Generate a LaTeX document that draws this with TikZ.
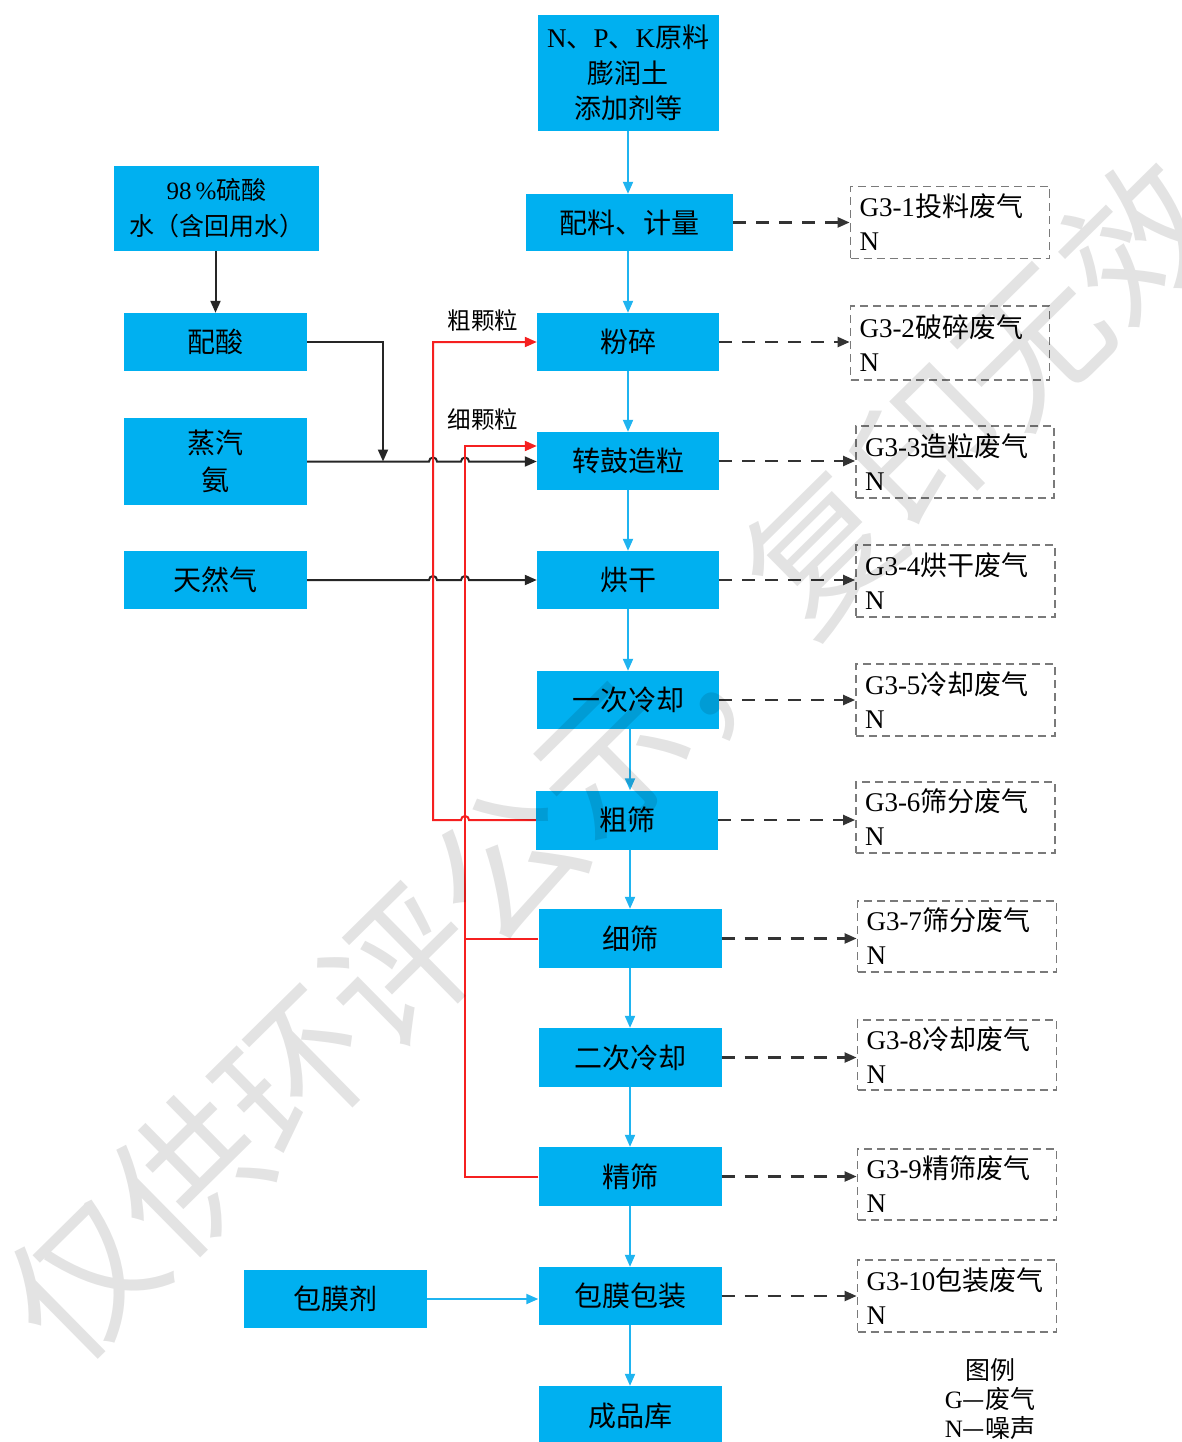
\documentclass[tikz,border=0pt]{standalone}
\usepackage{fontspec}
\setmainfont{Liberation Serif}
\newfontfamily\zhf{Noto Sans CJK SC}
\usetikzlibrary{arrows.meta,calc}
\definecolor{boxblue}{HTML}{00B0F0}
\definecolor{lineblue}{HTML}{1FB4F0}
\definecolor{redline}{HTML}{F52020}
\definecolor{dashgray}{HTML}{7A7A7A}
\begin{document}
\begin{tikzpicture}[x=1pt,y=-1pt,
  pbox/.style={fill=boxblue, inner sep=0pt, align=center, minimum width=182pt, minimum height=58pt,
    font=\fontsize{28}{33}\selectfont\zhf},
  gbox/.style={draw=dashgray, dash pattern=on 8pt off 5pt, line width=1.8pt, inner xsep=9pt, inner ysep=0pt,
    text width=181pt, align=left, minimum height=72pt, font=\fontsize{27}{34}\selectfont},
  tip/.style={-{Triangle[length=12pt,width=10pt]}},
  barrow/.style={draw=lineblue, line width=2pt, tip},
  karrow/.style={draw=black!85, line width=2pt, tip},
  rarrow/.style={draw=redline, line width=2pt, -{Triangle[length=12pt,width=10pt]}},
  rline/.style={draw=redline, line width=2pt},
  darrow/.style={draw=black!80, line width=2.2pt, dash pattern=on 13pt off 10pt, tip},
  lbl/.style={font=\fontsize{23.5}{28}\selectfont\zhf, inner sep=0pt},
]
\useasboundingbox (0,0) rectangle (1182,1442);
\fill[white] (0,0) rectangle (1182,1442);

% main column
\node[pbox, minimum width=181pt, minimum height=116pt, font=\fontsize{27}{35.5}\selectfont\zhf] (raw) at (628,73)
  {{\rmfamily N}、{\rmfamily P}、{\rmfamily K}原料\\膨润土\\添加剂等};
\node[pbox, minimum width=207pt, minimum height=57pt] (pl) at (629.5,222.5) {配料、计量};
\node[pbox] (fs) at (628,342) {粉碎};
\node[pbox] (zl) at (628,461) {转鼓造粒};
\node[pbox] (hg) at (628,580) {烘干};
\node[pbox] (lq1) at (628,700) {一次冷却};
\node[pbox, minimum height=59pt] (cs) at (627,820) {粗筛};
\node[pbox, minimum width=183pt, minimum height=59pt] (xs) at (630,938.5) {细筛};
\node[pbox, minimum width=183pt, minimum height=59pt] (lq2) at (630,1057.5) {二次冷却};
\node[pbox, minimum width=183pt, minimum height=59pt] (js) at (630,1176.5) {精筛};
\node[pbox, minimum width=183pt] (bz) at (630,1296) {包膜包装};
\node[pbox, minimum width=183pt, minimum height=60pt] (cp) at (630,1416) {成品库};

% left column
\node[pbox, minimum width=205pt, minimum height=85pt, font=\fontsize{25}{36}\selectfont\zhf] (ls) at (216.5,208.5)
  {{\rmfamily 98\,\%}硫酸\\水（含回用水）};
\node[pbox, minimum width=183pt] (pa) at (215.5,342) {配酸};
\node[pbox, minimum width=183pt, minimum height=87pt, font=\fontsize{28}{37}\selectfont\zhf] (zq) at (215.5,461.5) {蒸汽\\氨};
\node[pbox, minimum width=183pt] (trq) at (215.5,580) {天然气};
\node[pbox, minimum width=183pt] (bmj) at (335.5,1299) {包膜剂};

% right dashed boxes
\node[gbox] (g1) at (950,222.5) {G3-1{\zhf 投料废气}\\N};
\node[gbox, minimum height=74pt] (g2) at (950,343) {G3-2{\zhf 破碎废气}\\N};
\node[gbox, text width=180pt] (g3) at (955,462) {G3-3{\zhf 造粒废气}\\N};
\node[gbox] (g4) at (955.5,581) {G3-4{\zhf 烘干废气}\\N};
\node[gbox] (g5) at (955.5,700) {G3-5{\zhf 冷却废气}\\N};
\node[gbox, minimum height=71pt] (g6) at (955.5,817.5) {G3-6{\zhf 筛分废气}\\N};
\node[gbox, minimum height=71pt] (g7) at (957,936.5) {G3-7{\zhf 筛分废气}\\N};
\node[gbox, minimum height=70pt] (g8) at (957,1055) {G3-8{\zhf 冷却废气}\\N};
\node[gbox, minimum height=71pt] (g9) at (957,1184.5) {G3-9{\zhf 精筛废气}\\N};
\node[gbox] (g10) at (957,1296) {G3-10{\zhf 包装废气}\\N};

% legend and labels
\node[align=center, font=\fontsize{25}{29}\selectfont\zhf] (lg) at (990,1399)
  {图例\\{\rmfamily G}—废气\\{\rmfamily N}—噪声};
\node[lbl] (lb1) at (483,321) {粗颗粒};
\node[lbl] (lb2) at (483,420) {细颗粒};

% helper coordinates
\coordinate (r1) at (433,0);
\coordinate (r2) at (465,0);
\coordinate (jn) at (383,0);
\coordinate (zin) at ([yshift=15pt]zl.west);

% blue flow
\draw[barrow] (raw.south) -- (raw.south |- pl.north);
\draw[barrow] (fs.north |- pl.south) -- (fs.north);
\draw[barrow] (fs.south) -- (zl.north);
\draw[barrow] (zl.south) -- (hg.north);
\draw[barrow] (hg.south) -- (lq1.north);
\draw[barrow] (lq1.south -| 630,0) -- (630,0 |- cs.north);
\draw[barrow] (xs.north |- cs.south) -- (xs.north);
\draw[barrow] (xs.south) -- (lq2.north);
\draw[barrow] (lq2.south) -- (js.north);
\draw[barrow] (js.south) -- (bz.north);
\draw[barrow] (bz.south) -- (cp.north);
\draw[barrow] (bmj.east) -- (bmj.east -| bz.west);

% black inputs
\draw[karrow] (ls.south -| pa.north) -- (pa.north);
\draw[karrow] (pa.east) -- (jn |- pa.east) -- (jn |- zq.east);
\draw[karrow] (zq.east) -- ([xshift=-4pt]r1 |- zq.east) arc[start angle=180,end angle=0,radius=4pt]
  -- ([xshift=-4pt]r2 |- zq.east) arc[start angle=180,end angle=0,radius=4pt] -- (zq.east -| zl.west);
\draw[karrow] (trq.east) -- ([xshift=-4pt]r1 |- trq.east) arc[start angle=180,end angle=0,radius=4pt]
  -- ([xshift=-4pt]r2 |- trq.east) arc[start angle=180,end angle=0,radius=4pt] -- (trq.east -| hg.west);

% red recycle
\draw[rarrow] (cs.west) -- ([xshift=4pt]r2 |- cs.west) arc[start angle=0,end angle=180,radius=4pt]
  -- (r1 |- cs.west) -- (r1 |- fs.west) -- (fs.west);
\draw[rarrow] (js.west) -- (r2 |- js.west) -- (r2 |- zin) -- (zin);
\draw[rline] (xs.west) -- (r2 |- xs.west);

% dashed emissions
\draw[darrow] (pl.east) -- (pl.east -| g1.west);
\draw[darrow] (fs.east) -- (fs.east -| g2.west);
\draw[darrow] (zl.east) -- (zl.east -| g3.west);
\draw[darrow] (hg.east) -- (hg.east -| g4.west);
\draw[darrow] (lq1.east) -- (lq1.east -| g5.west);
\draw[darrow] (cs.east) -- (cs.east -| g6.west);
\draw[darrow] (xs.east) -- (xs.east -| g7.west);
\draw[darrow] (lq2.east) -- (lq2.east -| g8.west);
\draw[darrow] (js.east) -- (js.east -| g9.west);
\draw[darrow] (bz.east) -- (bz.east -| g10.west);

% watermark
\node[rotate=44.6, text=black, opacity=0.11, inner sep=0pt, font=\fontsize{148}{148}\selectfont\zhf] (wm) at (612,760)
  {仅供环评公示，复印无效};
\end{tikzpicture}
\end{document}
